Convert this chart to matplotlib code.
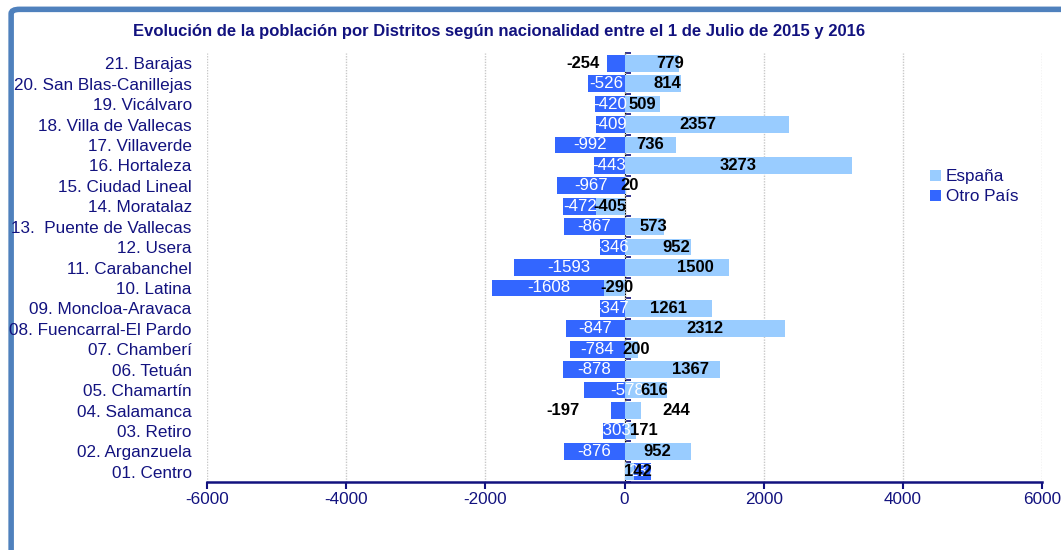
import numpy as np
import matplotlib
matplotlib.use('Agg')
import matplotlib.pyplot as plt
from matplotlib.patches import FancyBboxPatch

plt.rcParams['font.family'] = ['Liberation Sans', 'DejaVu Sans']

# districts, bottom to top (as drawn)
distritos = ['01. Centro', '02. Arganzuela', '03. Retiro', '04. Salamanca',
             '05. Chamartín', '06. Tetuán', '07. Chamberí', '08. Fuencarral-El Pardo',
             '09. Moncloa-Aravaca', '10. Latina', '11. Carabanchel', '12. Usera',
             '13.  Puente de Vallecas', '14. Moratalaz', '15. Ciudad Lineal',
             '16. Hortaleza', '17. Villaverde', '18. Villa de Vallecas',
             '19. Vicálvaro', '20. San Blas-Canillejas', '21. Barajas']
espana = [142, 952, 171, 244, 616, 1367, 200, 2312, 1261, -290, 1500, 952,
          573, -405, 20, 3273, 736, 2357, 509, 814, 779]
otro_pais = [237, -876, -303, -197, -578, -878, -784, -847, -347, -1608, -1593, -346,
             -867, -472, -967, -443, -992, -409, -420, -526, -254]
x_ticks = [-6000, -4000, -2000, 0, 2000, 4000, 6000]

# manual label nudges (data units), like the hand-moved labels of the original
esp_nudge = {'01. Centro': 115, '03. Retiro': 190, '04. Salamanca': 620,
             '05. Chamartín': 115, '06. Tetuán': 260, '07. Chamberí': 60,
             '10. Latina': 40, '11. Carabanchel': 270, '12. Usera': 270,
             '13.  Puente de Vallecas': 130, '15. Ciudad Lineal': 60,
             '18. Villa de Vallecas': -130, '20. San Blas-Canillejas': 215,
             '21. Barajas': 260}
otro_nudge = {'04. Salamanca': -790, '05. Chamartín': 330, '21. Barajas': -475}
otro_outside = ['04. Salamanca', '21. Barajas']

navy = '#12127f'
c_esp = '#99ccff'
c_otro = '#3366ff'

fig = plt.figure(figsize=(10.61, 5.5), dpi=100)
frame = FancyBboxPatch((0.0105, -0.2), 1.2, 1.183, boxstyle='round,pad=0,rounding_size=0.008',
                       transform=fig.transFigure, facecolor='white', edgecolor='#4f81bd',
                       linewidth=4, zorder=-10)
fig.patches.append(frame)

ax = fig.add_axes([0.1951, 0.1236, 0.787, 0.78])
ax.set_facecolor('none')

y = np.arange(len(distritos))
esp = np.array(espana)
otr = np.array(otro_pais)
# stacked: positives stack on positives, negatives on negatives
base_otro = np.where(np.sign(otr) == np.sign(esp), esp, 0)

h = 0.82
ax.barh(y, esp, height=h, color=c_esp, zorder=2, label='España')
ax.barh(y, otr, left=base_otro, height=h, color=c_otro, zorder=2, label='Otro País')

for i, d in enumerate(distritos):
    xe = esp[i] / 2 + esp_nudge.get(d, 0)
    ax.text(xe, y[i], f'{esp[i]}', ha='center', va='center', fontsize=12,
            fontweight='bold', color='black', zorder=5)
    xo = base_otro[i] + otr[i] / 2 + otro_nudge.get(d, 0)
    if d in otro_outside:
        ax.text(xo, y[i], f'{otr[i]}', ha='center', va='center', fontsize=12,
                fontweight='bold', color='black', zorder=4)
    else:
        ax.text(xo, y[i], f'{otr[i]}', ha='center', va='center', fontsize=12.2,
                color='white', zorder=4)

ax.set_xlim(-6000, 6000)
ax.set_ylim(-0.5, len(distritos) - 0.5)
ax.set_xticks(x_ticks)
ax.set_xticklabels([str(t) for t in x_ticks])
ax.set_yticks(y)
ax.set_yticklabels(distritos)
ax.tick_params(axis='y', length=0, pad=11, labelsize=12.3, labelcolor=navy)
ax.tick_params(axis='x', length=5, width=1.5, color=navy, labelsize=12.3,
               labelcolor=navy, pad=2)
ax.grid(axis='x', color='#c8c8c8', linestyle=(0, (1, 1)), linewidth=1, zorder=0)
for s in ['top', 'right', 'left']:
    ax.spines[s].set_visible(False)
ax.spines['bottom'].set_color(navy)
ax.spines['bottom'].set_linewidth(1.8)

# vertical axis at zero with ticks between categories
sec = ax.secondary_yaxis(0.5)
sec.set_yticks(np.arange(len(distritos) + 1) - 0.5)
sec.set_yticklabels([])
sec.tick_params(axis='y', length=4, width=1.2, color=navy, direction='out')
sec.spines['left'].set_color(navy)
sec.spines['left'].set_linewidth(1.8)
sec.spines['left'].set_zorder(6)

ax.legend(loc='upper left', bbox_to_anchor=(0.848, 0.765), frameon=False, fontsize=12.3,
          labelcolor=navy, handlelength=0.6, handleheight=0.6, handletextpad=0.3,
          labelspacing=0.3)

fig.text(0.47, 0.942, 'Evolución de la población por Distritos según nacionalidad entre el 1 de Julio de 2015 y 2016',
         ha='center', va='center', fontsize=12, fontweight='bold', color=navy)

fig.savefig('out.png', dpi=100)
